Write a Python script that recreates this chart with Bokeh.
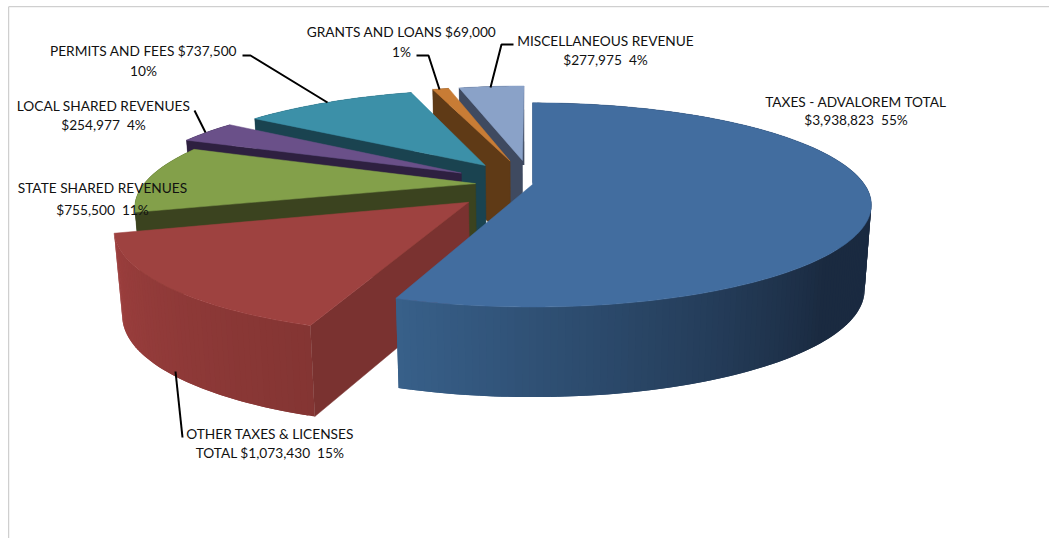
import math
from bokeh.plotting import figure
from bokeh.embed import file_html
from bokeh.resources import INLINE
from bokeh.models import Range1d
from bokeh.core.properties import value

# Revenue sources, clockwise from twelve o'clock
names = ["TAXES - ADVALOREM TOTAL", "OTHER TAXES & LICENSES", "STATE SHARED REVENUES",
         "LOCAL SHARED REVENUES", "PERMITS AND FEES", "GRANTS AND LOANS", "MISCELLANEOUS REVENUE"]
amounts = [3938823, 1073430, 755500, 254977, 737500, 69000, 277975]
explode = [0.0, 0.255, 0.172, 0.25, 0.25, 0.26, 0.26]

top_colors = ["#426d9f", "#9e4240", "#83a04a", "#6a5089", "#3c90a8", "#c87c35", "#8aa2c8"]
cut_colors = ["#1a2c45", "#7a3230", "#3b431f", "#2e2040", "#1a4350", "#5f3a16", "#3f4a60"]
rim_light = ["#38608a", "#9c3f3e", "#3b431f", "#2e2040", "#1a4350", "#5f3a16", "#3f4a60"]
rim_dark = ["#1a2a40", "#843533", "#3b431f", "#2e2040", "#1a4350", "#5f3a16", "#3f4a60"]
rim_fade = [70.0, 54.0, 1.0, 1.0, 1.0, 1.0, 1.0]

NB = "\u00a0"
# Label text blocks: lines, centre x, y of first line, y of second line
labels = [
    (["TAXES - ADVALOREM TOTAL", f"$3,938,823{NB}{NB}55%"], 855.5, 101, 119),
    (["OTHER TAXES & LICENSES", f"TOTAL $1,073,430{NB}{NB}15%"], 269.5, 433, 452),
    (["STATE SHARED REVENUES", f"$755,500{NB}{NB}11%"], 102, 187, 209),
    (["LOCAL SHARED REVENUES", f"$254,977{NB}{NB}4%"], 103, 105, 124),
    (["PERMITS AND FEES $737,500", "10%"], 143, 50, 70),
    (["GRANTS AND LOANS $69,000", "1%"], 401, 31, 51),
    (["MISCELLANEOUS REVENUE", f"$277,975{NB}{NB}4%"], 605, 40, 59),
]
# Callout polylines from label to slice
leaders = [
    ([182, 175], [437, 371]),
    ([194, 205], [110, 132]),
    ([242, 250, 327], [55, 55, 102]),
    ([416, 428, 439], [55, 55, 89]),
    ([513, 501, 490], [44, 44, 87]),
]

CX, CY = 532.0, 184.0      # projected pie centre
RX, KY, PERSP = 332.0, 98.0, 0.2
DROP, DROP_SLOPE, SHRINK = 84.0, 0.05, 0.98


def top_point(u, v):
    d = 1 + PERSP * v
    return CX + RX * u / d, CY - KY * v / d


def bottom_point(u, v):
    x, y = top_point(u, v)
    return CX + SHRINK * (x - CX), y + DROP + DROP_SLOPE * (y - CY)


def polar(deg):
    a = math.radians(deg)
    return math.sin(a), math.cos(a)


def mix(c1, c2, t):
    a = [int(c1[i:i + 2], 16) for i in (1, 3, 5)]
    b = [int(c2[i:i + 2], 16) for i in (1, 3, 5)]
    return "#%02x%02x%02x" % tuple(round(p + (q - p) * t) for p, q in zip(a, b))


p = figure(width=1049, height=538, output_backend="svg", toolbar_location=None,
           x_range=Range1d(0, 1049), y_range=Range1d(538, 0), min_border=0,
           outline_line_color=None)
p.xaxis.visible = False
p.yaxis.visible = False
p.grid.visible = False

# Chart area frame
p.line([8.2, 8.2, 1049], [538, 6.2, 6.2], line_color="#c4c4c4", line_width=1)

total = sum(amounts)
starts, a = [], 0.0
for v in amounts:
    starts.append(a)
    a += v / total * 360.0

# Far slices first, the large near slice last
for i in [6, 5, 4, 3, 2, 1, 0]:
    t0 = starts[i]
    sweep = amounts[i] / total * 360.0
    mu, mv = polar(t0 + sweep / 2)
    ou, ov = explode[i] * mu, explode[i] * mv
    n = max(3, int(sweep / 1.0))
    arc = [(ou + polar(t0 + sweep * j / n)[0], ov + polar(t0 + sweep * j / n)[1]) for j in range(n + 1)]

    # Outer curved wall: overlapping strips hide the seams between shades
    xs, ys, cs = [], [], []
    for j in range(n):
        k = min(j + 2, n)
        ta, tb = top_point(*arc[j]), top_point(*arc[k])
        ba, bb = bottom_point(*arc[j]), bottom_point(*arc[k])
        xs.append([ta[0], tb[0], bb[0], ba[0]])
        ys.append([ta[1], tb[1], bb[1], ba[1]])
        th = sweep * (n - j - 0.5) / n
        shade = min(1.0, th / rim_fade[i])
        cs.append(mix(rim_light[i], rim_dark[i], shade))
    p.patches(xs, ys, fill_color=cs, line_color=None)

    # Cut face along the starting radius
    if i > 0:
        s = arc[0]
        a_t, s_t = top_point(ou, ov), top_point(*s)
        a_b, s_b = bottom_point(ou, ov), bottom_point(*s)
        p.patch([a_t[0], s_t[0], s_b[0], a_b[0]], [a_t[1], s_t[1], s_b[1], a_b[1]],
                fill_color=cut_colors[i], line_color=cut_colors[i], line_width=0.5)

    # Top face
    pts = [top_point(ou, ov)] + [top_point(*q) for q in arc]
    p.patch([q[0] for q in pts], [q[1] for q in pts], fill_color=top_colors[i],
            line_color=top_colors[i], line_width=0.5)

for lx, ly in leaders:
    p.line(lx, ly, line_color="black", line_width=2)

for lines, cx, y0, y1 in labels:
    for line, y in zip(lines, (y0, y1)):
        p.text([cx], [y], text=[line], text_font=value("Lato"), text_font_size="13.7px",
               text_align="center", text_baseline="middle", text_color="#111111")

open("out.html", "w").write(file_html(p, INLINE))
